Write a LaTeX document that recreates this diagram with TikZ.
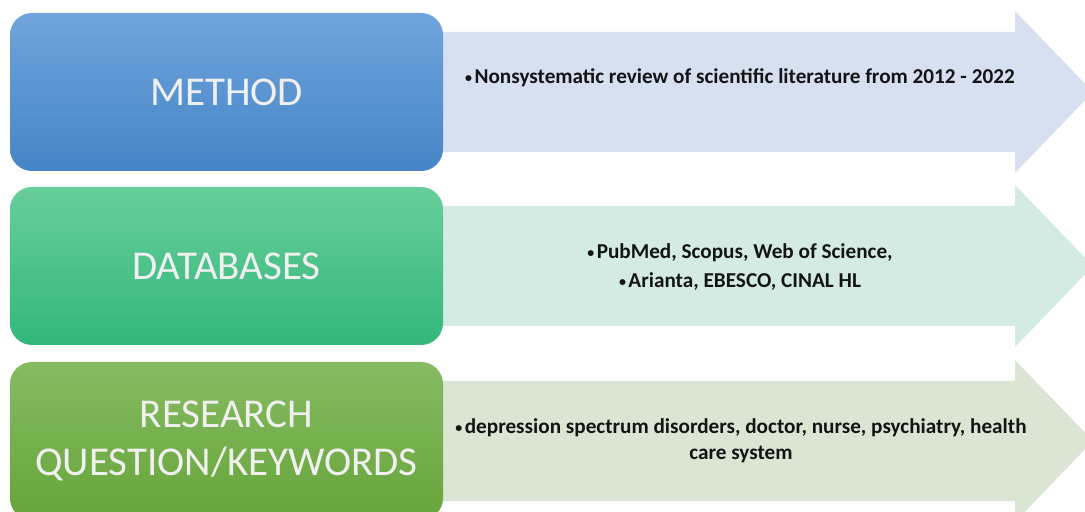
\documentclass[tikz,border=0pt]{standalone}
\usepackage{fontspec}
\setmainfont{Carlito}
\usetikzlibrary{positioning}

\definecolor{methodtop}{HTML}{70A4DC}
\definecolor{methodbot}{HTML}{4585C7}
\definecolor{dbtop}{HTML}{68CE9B}
\definecolor{dbbot}{HTML}{33B77B}
\definecolor{rqtop}{HTML}{86BB62}
\definecolor{rqbot}{HTML}{66A53A}
\definecolor{methodfill}{HTML}{D6E0F1}
\definecolor{dbfill}{HTML}{D4EBE3}
\definecolor{rqfill}{HTML}{DAE6D3}

% small list bullet
\newcommand{\itembullet}{\raisebox{0.12ex}{\fontsize{7}{7}\selectfont•}\hspace{1.2pt}}

\begin{document}
\begin{tikzpicture}[
  x=0.5pt, y=-0.5pt,
  stepbox/.style={
    rounded corners=11pt, minimum width=216.5pt, minimum height=79pt,
    inner sep=0pt, align=center, text=white!94!black,
    font=\fontsize{20.5}{24}\selectfont
  },
  infotext/.style={
    align=center, text=black!92, inner sep=0pt,
    font=\fontsize{10.6}{14}\selectfont\bfseries
  },
]
\useasboundingbox (0,0) rectangle (1085,512);
\clip (0,0) rectangle (1085,512);

%% Arrows behind the boxes
\fill[methodfill] (430,32) -- (1015,32) -- (1015,11) -- (1093,92)
  -- (1015,173) -- (1015,152) -- (430,152) -- cycle;
\fill[dbfill] (430,206) -- (1015,206) -- (1015,185) -- (1093,266)
  -- (1015,347) -- (1015,326) -- (430,326) -- cycle;
\fill[rqfill] (430,381) -- (1015,381) -- (1015,360) -- (1093,441)
  -- (1015,522) -- (1015,501) -- (430,501) -- cycle;

%% Boxes on the left
\node[stepbox, top color=methodtop, bottom color=methodbot] (method) at (226.5,92) {METHOD};
\node[stepbox, top color=dbtop, bottom color=dbbot] (databases) at (226.5,266) {DATABASES};
\node[stepbox, top color=rqtop, bottom color=rqbot] (research) at (226.5,441)
  {RESEARCH\\QUESTION/KEYWORDS};

%% Text in the arrows
\node[infotext] (methodtxt) at (740,78)
  {\itembullet Nonsystematic review of scientific literature from 2012 - 2022};
\node[infotext] (databasestxt) at (740,267)
  {\itembullet PubMed, Scopus, Web of Science,\\[0.5pt]\itembullet Arianta, EBESCO, CINAL HL};
\node[infotext] (researchtxt) at (741,441)
  {\itembullet depression spectrum disorders, doctor, nurse, psychiatry, health\\[-1pt]care system};

\end{tikzpicture}
\end{document}
